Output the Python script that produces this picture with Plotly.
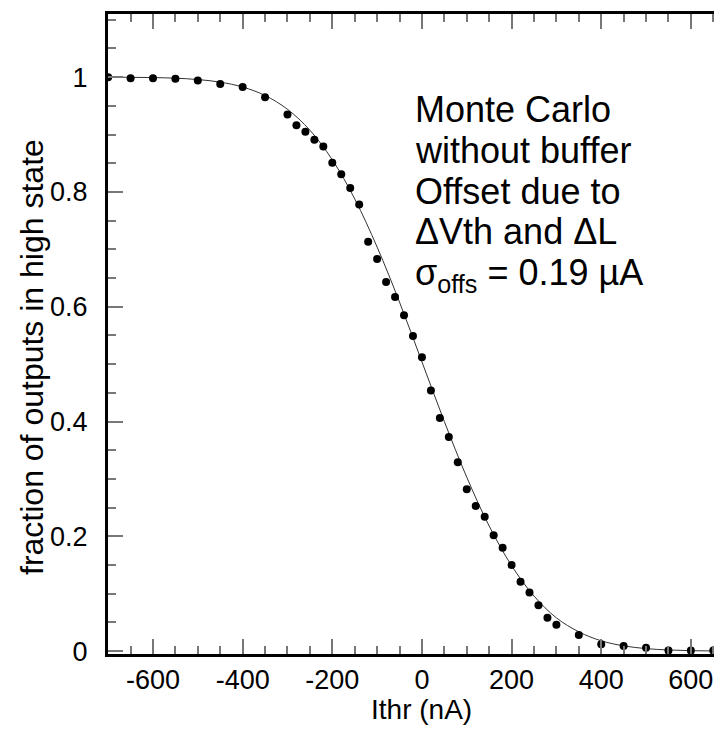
import plotly.graph_objects as go

# Monte Carlo points (Ithr in nA, fraction in high state)
mc_x = [-700, -650, -600, -550, -500, -450, -400, -350, -300,
        -280, -260, -240, -220, -200, -180, -160, -140, -120, -100, -80, -60, -40, -20,
        0, 20, 40, 60, 80, 100, 120, 140, 160, 180, 200, 220, 240, 260, 280, 300,
        350, 400, 450, 500, 550, 600, 650]
mc_y = [1.0, 0.998, 0.998, 0.997, 0.994, 0.988, 0.983, 0.965, 0.935,
        0.916, 0.905, 0.891, 0.879, 0.851, 0.831, 0.807, 0.778, 0.713, 0.683, 0.643, 0.617, 0.585, 0.549,
        0.512, 0.454, 0.406, 0.373, 0.329, 0.282, 0.253, 0.234, 0.202, 0.180, 0.150, 0.121, 0.102, 0.080, 0.058, 0.046,
        0.028, 0.012, 0.009, 0.006, 0.001, 0.001, 0.001]

# fitted curve
fit_x = [-700, -650, -600, -550, -500, -450, -400, -350, -300, -250, -200, -150, -100, -50,
         0, 50, 100, 150, 200, 250, 300, 350, 400, 450, 500, 550, 600, 650, 700]
fit_y = [0.9999, 0.9997, 0.9992, 0.9982, 0.9958, 0.9913, 0.9828, 0.968, 0.944, 0.9076, 0.856, 0.788, 0.704, 0.608,
         0.504, 0.400, 0.303, 0.218, 0.149, 0.096, 0.058, 0.0336, 0.018, 0.0092, 0.0044, 0.0020, 0.0008, 0.0003, 0.0001]

x_tickvals = [-600, -400, -200, 0, 200, 400, 600]
x_ticktext = ["-600", "-400", "-200", "0", "200", "400", "600"]
y_tickvals = [0, 0.2, 0.4, 0.6, 0.8, 1]
y_ticktext = ["0", "0.2", "0.4", "0.6", "0.8", "1"]

x_title = "Ithr (nA)"
y_title = "fraction of outputs in high state"
text_lines = ["Monte Carlo", "without buffer", "Offset due to",
              "\u0394Vth and \u0394L", "\u03c3<sub>offs</sub> = 0.19 \u00b5A"]

FONT = "Liberation Sans, Arial, Helvetica, sans-serif"
W, H = 722, 751
ML, MR, MT, MB = 100, 0, 6, 105
XR = [-700.4, 687.3]
YR = [-0.005, 1.11]
plot_w = W - ML - MR
plot_h = H - MT - MB
AX_BOTTOM = H - MB


def py(pix):
    """pixel row -> paper y"""
    return (AX_BOTTOM - pix) / plot_h


def px(pix):
    """pixel column -> paper x"""
    return (pix - ML) / plot_w


fig = go.Figure()
fig.add_trace(go.Scatter(x=fit_x, y=fit_y, mode="lines", line=dict(color="#333333", width=1, shape="spline"),
                         hoverinfo="skip", showlegend=False))
fig.add_trace(go.Scatter(x=mc_x, y=mc_y, mode="markers", marker=dict(color="black", size=8),
                         showlegend=False))
fig.add_trace(go.Scatter(x=[0], y=[0.5], xaxis="x2", yaxis="y2", mode="markers",
                         marker=dict(opacity=0), hoverinfo="skip", showlegend=False))

minor_x = dict(ticks="inside", dtick=50, tick0=0, ticklen=8, tickcolor="#777777", tickwidth=1.5)
minor_y = dict(ticks="inside", dtick=0.05, tick0=0, ticklen=8, tickcolor="#777777", tickwidth=1.5)
tick_style = dict(ticks="inside", tickcolor="#777777", tickwidth=1.5, ticklen=15)

fig.update_layout(
    width=W, height=H,
    margin=dict(l=ML, r=MR, t=MT, b=MB),
    paper_bgcolor="white", plot_bgcolor="white",
    font=dict(family=FONT, color="black"),
    xaxis=dict(range=XR, showgrid=False, zeroline=False, showline=True, linecolor="black", linewidth=3,
               tickmode="array", tickvals=x_tickvals, ticktext=x_ticktext, minor=minor_x,
               tickfont=dict(size=27, family=FONT), ticklabelstandoff=0,
               **tick_style),
    yaxis=dict(range=YR, showgrid=False, zeroline=False, showline=True, linecolor="black", linewidth=3,
               tickmode="array", tickvals=y_tickvals, ticktext=y_ticktext, minor=minor_y,
               tickfont=dict(size=27, family=FONT), ticklabelstandoff=12,
               **tick_style),
    xaxis2=dict(range=XR, overlaying="x", side="top", showgrid=False, zeroline=False, showline=True,
                linecolor="black", linewidth=3, tickmode="array", tickvals=x_tickvals,
                showticklabels=False, minor=minor_x, **tick_style),
    yaxis2=dict(range=YR, overlaying="y", side="right", showgrid=False, zeroline=False, showline=False,
                tickmode="array", tickvals=y_tickvals, showticklabels=False, minor=minor_y, **tick_style),
)

# axis titles
fig.add_annotation(text=x_title, xref="paper", yref="paper", x=px(414), y=py(701),
                   xanchor="center", yanchor="middle", showarrow=False,
                   font=dict(size=28, family=FONT, color="black"))
fig.add_annotation(text=y_title, xref="paper", yref="paper", x=px(24), y=py(349), textangle=-90,
                   xanchor="center", yanchor="middle", showarrow=False,
                   font=dict(size=32, family=FONT, color="black"))

baselines = [114, 155, 196, 236.5, 279]
for line, b in zip(text_lines, baselines):
    fig.add_annotation(text=line, xref="paper", yref="paper",
                       x=px(405), y=py(b - 12.5),
                       xanchor="left", yanchor="middle", showarrow=False,
                       font=dict(size=36, family=FONT, color="black"))

fig.write_html("out.html")
